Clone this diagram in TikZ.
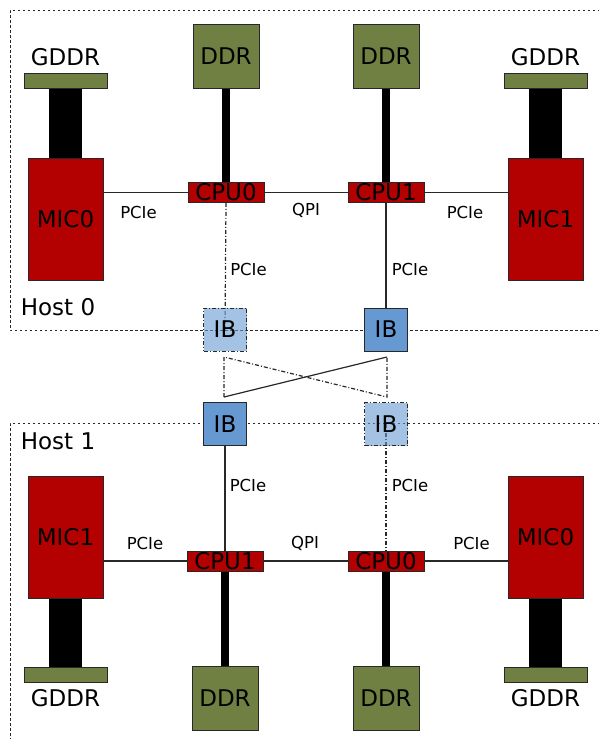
\documentclass[tikz,border=0pt]{standalone}
\usepackage{fontspec}
\setmainfont{DejaVu Sans}
\pgfdeclarelayer{bg}
\pgfsetlayers{bg,main}
\definecolor{micred}{RGB}{179,0,0}
\definecolor{memgreen}{RGB}{112,128,66}
\definecolor{ibblue}{RGB}{102,153,210}
\definecolor{edgegray}{RGB}{40,40,40}
\tikzset{
  box/.style={draw=edgegray, line width=0.9pt, inner sep=0pt, font=\fontsize{23}{23}\selectfont},
  mic/.style={box, fill=micred, minimum width=75pt, minimum height=122pt},
  cpu/.style={box, fill=micred, minimum width=76pt, minimum height=20pt, text height=16.5pt, text depth=0pt},
  ddr/.style={box, fill=memgreen, minimum width=66pt, minimum height=64pt},
  gbar/.style={box, fill=memgreen, minimum width=83pt, minimum height=15pt},
  ib/.style={box, fill=ibblue, minimum width=43pt, minimum height=43pt},
  ibl/.style={ib, fill opacity=0.6, text opacity=1, dash pattern=on 4pt off 2pt on 1pt off 2pt},
  big/.style={font=\fontsize{23}{23}\selectfont, inner sep=0pt},
  lbl/.style={font=\fontsize{16.5}{16.5}\selectfont, inner sep=0pt},
  link/.style={draw=edgegray, line width=1.2pt},
  dlink/.style={link, dash pattern=on 4pt off 2pt on 1pt off 2pt},
  mem/.style={draw=black, line width=8pt},
  gmem/.style={draw=black, line width=33pt},
  host/.style={draw=edgegray, line width=1pt, dash pattern=on 2.5pt off 2.5pt}
}
\begin{document}
\begin{tikzpicture}[x=1pt,y=-1pt]
\useasboundingbox (0,0) rectangle (598,739);
% ---------- Host 0 ----------
\node[gbar] (gbA) at (65.5,80.5) {};
\node[big] (gtA) at (65.5,57) {GDDR};
\node[mic] (micA) at (65.5,219) {MIC0};
\node[ddr] (ddrA) at (226,56) {DDR};
\node[cpu] (cpuA) at (226,192.5) {CPU0};
\node[cpu] (cpuB) at (386,192.5) {CPU1};
\node[ddr] (ddrB) at (386,56) {DDR};
\node[gbar] (gbB) at (545.5,80.5) {};
\node[big] (gtB) at (545.5,57) {GDDR};
\node[mic] (micB) at (545.5,219) {MIC1};
\node[ibl] (ibA) at (225,329.5) {IB};
\node[ib] (ibB) at (386,329.5) {IB};
\node[big] (hA) at (58,307) {Host 0};
\node[lbl] (l1) at (138.5,212) {PCIe};
\node[lbl] (l2) at (306,210) {QPI};
\node[lbl] (l3) at (465,212) {PCIe};
\node[lbl] (l4) at (248.5,269) {PCIe};
\node[lbl] (l5) at (410,269) {PCIe};
% ---------- Host 1 ----------
\node[ib] (ibC) at (225,424) {IB};
\node[ibl] (ibD) at (386,424) {IB};
\node[big] (hB) at (58,441) {Host 1};
\node[mic] (micC) at (65.5,537) {MIC1};
\node[gbar] (gbC) at (65.5,674.5) {};
\node[big] (gtC) at (65.5,698.5) {GDDR};
\node[cpu] (cpuC) at (225,561) {CPU1};
\node[ddr] (ddrC) at (225,698) {DDR};
\node[cpu] (cpuD) at (386,561) {CPU0};
\node[ddr] (ddrD) at (386,698) {DDR};
\node[mic] (micD) at (545.5,537) {MIC0};
\node[gbar] (gbD) at (545.5,674.5) {};
\node[big] (gtD) at (545.5,698.5) {GDDR};
\node[lbl] (l6) at (145,543) {PCIe};
\node[lbl] (l7) at (305,543) {QPI};
\node[lbl] (l8) at (471.5,543) {PCIe};
\node[lbl] (l9) at (248,485) {PCIe};
\node[lbl] (l10) at (410,485) {PCIe};
% cross-over coordinates
\coordinate (c1) at (224,357);
\coordinate (c2) at (387,357);
\coordinate (c3) at (224,397);
\coordinate (c4) at (387,397);
\begin{pgfonlayer}{bg}
  \draw[host] (600,10) -- (10,10) -- (10,330) -- (600,330);
  \draw[host] (600,423) -- (10,423) -- (10,745);
  % memory buses
  \draw[mem] (ddrA.south) -- (cpuA.north);
  \draw[mem] (ddrB.south) -- (cpuB.north);
  \draw[mem] (ddrC.north) -- (cpuC.south);
  \draw[mem] (ddrD.north) -- (cpuD.south);
  \draw[gmem] (gbA.south) -- (micA.north);
  \draw[gmem] (gbB.south) -- (micB.north);
  \draw[gmem] (gbC.north) -- (micC.south);
  \draw[gmem] (gbD.north) -- (micD.south);
  % links host 0
  \draw[link] (cpuA.west) -- (cpuA.west -| micA.east);
  \draw[link] (cpuA.east) -- (cpuB.west);
  \draw[link] (cpuB.east) -- (cpuB.east -| micB.west);
  \draw[dlink] (cpuA.south) -- (ibA.center);
  \draw[link] (cpuB.south) -- (ibB.north);
  % links host 1
  \draw[link] (cpuC.west) -- (cpuC.west -| micC.east);
  \draw[link] (cpuC.east) -- (cpuD.west);
  \draw[link] (cpuD.east) -- (cpuD.east -| micD.west);
  \draw[link] (ibC.south) -- (cpuC.north);
  \draw[dlink] (ibD.center) -- (cpuD.north);
  % cross-over
  \draw[dlink] (c3) -- (c1) -- (c4) -- (c2);
  \draw[link] (c3) -- (c2);
\end{pgfonlayer}
\end{tikzpicture}
\end{document}
